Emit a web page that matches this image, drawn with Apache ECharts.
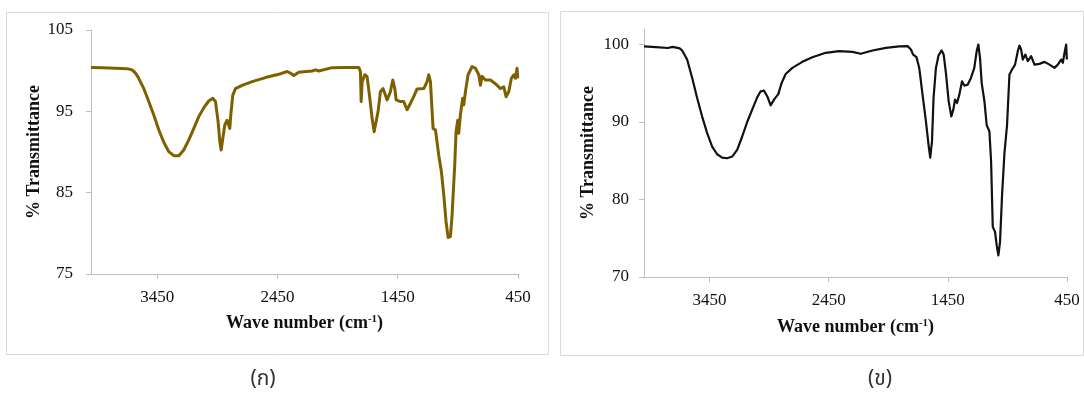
<!DOCTYPE html>
<html>
<head>
<meta charset="utf-8">
<script src="https://cdn.jsdelivr.net/npm/echarts@6/dist/echarts.min.js"></script>
<style>
  html, body { margin: 0; padding: 0; background: #fff; }
  #chart { width: 1084px; height: 396px; }
</style>
</head>
<body>
<div id="chart"></div>
<script>
// FTIR spectrum (ก): wavenumber (cm-1) and % transmittance
const leftWavenumber = [4000, 3900, 3800, 3700, 3658, 3630, 3603, 3561, 3520, 3478, 3436, 3395, 3353, 3312,
  3270, 3229, 3187, 3145, 3104, 3062, 3021, 2988, 2965, 2943, 2929, 2918, 2904, 2888, 2868, 2854, 2846,
  2838, 2821, 2799, 2744, 2660, 2550, 2439, 2370, 2342, 2314, 2273, 2162, 2134, 2106, 1995, 1885, 1774,
  1760, 1754, 1746, 1724, 1705, 1685, 1663, 1646, 1630, 1613, 1594, 1572, 1538, 1511, 1491, 1474, 1463,
  1427, 1400, 1372, 1344, 1317, 1289, 1233, 1206, 1192, 1178, 1156, 1136, 1109, 1087, 1067, 1048, 1031,
  1012, 998, 976, 965, 951, 943, 929, 910, 901, 887, 865, 832, 804, 776, 762, 749, 721, 679, 638, 596,
  568, 549, 527, 505, 485, 471, 458, 452];
const leftTransmittance = [100.4, 100.35, 100.3, 100.25, 100.1, 99.7, 99.06, 97.8, 96.2, 94.55, 92.7, 91.2,
  90.04, 89.55, 89.55, 90.25, 91.5, 92.9, 94.35, 95.45, 96.27, 96.6, 96.2, 93.7, 91.3, 90.25, 91.7, 93.3,
  93.9, 93.7, 92.9, 94.55, 97.0, 97.8, 98.2, 98.65, 99.15, 99.55, 99.9, 99.7, 99.4, 99.8, 99.96, 100.1,
  99.96, 100.37, 100.4, 100.4, 99.9, 96.2, 98.6, 99.5, 99.3, 97.0, 94.14, 92.5, 92.7, 95.0, 97.4, 97.8,
  96.4, 97.4, 98.85, 97.8, 96.4, 96.2, 96.2, 95.2, 96.0, 96.8, 97.75, 97.8, 98.65, 99.5, 98.65, 92.9, 92.7,
  89.6, 87.6, 84.7, 81.4, 79.5, 79.6, 82.25, 88.4, 92.5, 93.9, 92.3, 94.55, 96.6, 95.8, 97.4, 99.5, 100.5,
  100.3, 99.5, 98.2, 99.3, 98.85, 98.85, 98.4, 97.8, 98.0, 96.8, 97.4, 99.06, 99.5, 99.06, 100.3, 99.06];

// FTIR spectrum (ข)
const rightWavenumber = [4000, 3900, 3800, 3760, 3700, 3680, 3638, 3596, 3554, 3512, 3470, 3428, 3386, 3344,
  3302, 3260, 3218, 3176, 3134, 3092, 3050, 3021, 2993, 2965, 2937, 2909, 2873, 2845, 2811, 2755, 2671,
  2587, 2475, 2363, 2251, 2181, 2082, 1970, 1858, 1788, 1760, 1741, 1713, 1690, 1662, 1634, 1612, 1598,
  1583, 1570, 1550, 1528, 1502, 1485, 1466, 1443, 1421, 1404, 1390, 1373, 1354, 1331, 1312, 1284, 1256,
  1228, 1208, 1194, 1180, 1166, 1143, 1124, 1101, 1087, 1073, 1054, 1040, 1026, 1012, 995, 975, 953, 933,
  911, 886, 863, 849, 835, 821, 799, 779, 751, 723, 681, 639, 597, 555, 527, 499, 485, 471, 457, 451];
const rightTransmittance = [99.75, 99.65, 99.55, 99.7, 99.5, 99.23, 98.06, 95.7, 93.1, 90.7, 88.56, 86.83,
  85.84, 85.41, 85.32, 85.54, 86.4, 88.13, 90.0, 91.6, 93.18, 93.96, 94.05, 93.3, 92.15, 92.88, 93.6, 95.04,
  96.2, 96.98, 97.76, 98.36, 98.93, 99.14, 99.05, 98.8, 99.23, 99.57, 99.75, 99.79, 99.36, 98.7, 98.36,
  96.98, 93.5, 90.07, 87.05, 85.4, 87.5, 93.1, 96.98, 98.6, 99.23, 98.7, 96.3, 92.66, 90.72, 91.6, 92.88,
  92.45, 93.5, 95.25, 94.7, 94.8, 95.69, 96.98, 99.14, 100.0, 98.28, 95.04, 92.66, 89.6, 88.78, 84.9, 76.47,
  75.82, 74.1, 72.8, 74.53, 80.57, 85.97, 89.64, 96.12, 96.77, 97.4, 99.14, 99.87, 99.36, 98.06, 98.7,
  97.85, 98.5, 97.4, 97.5, 97.76, 97.4, 96.98, 97.4, 98.06, 97.63, 98.9, 100.0, 98.06];

const xTicks = [450, 1450, 2450, 3450];
const leftYTicks = [75, 85, 95, 105];
const rightYTicks = [70, 80, 90, 100];

const pairs = (xs, ys) => xs.map((x, i) => [x, ys[i]]);

const serif = '"Liberation Serif", "Times New Roman", serif';
const axisGray = '#bfbfbf';
const textColor = '#111111';
const plain = v => String(v);

function xAxisFor(gridIndex, nameGap) {
  return {
    gridIndex, type: 'value', inverse: true, min: 450, max: 4000,
    name: 'Wave number (cm{sup|-1})',
    nameLocation: 'middle', nameGap,
    nameTextStyle: {
      fontFamily: serif, fontWeight: 'bold', fontSize: 18, color: textColor,
      rich: { sup: { fontFamily: serif, fontWeight: 'bold', fontSize: 11, verticalAlign: 'top', color: textColor, padding: [0, 0, 8, 0] } }
    },
    axisLine: { show: true, lineStyle: { color: axisGray, width: 1 } },
    axisTick: { show: true, customValues: xTicks, length: 5, lineStyle: { color: axisGray } },
    axisLabel: { customValues: xTicks, formatter: plain, fontFamily: serif, fontSize: 17, color: textColor, margin: 15 },
    splitLine: { show: false }
  };
}

function yAxisFor(gridIndex, min, max, ticks, margin, nameGap) {
  return {
    gridIndex, type: 'value', min, max,
    name: '% Transmittance',
    nameLocation: 'middle', nameGap, nameRotate: 90,
    nameTextStyle: { fontFamily: serif, fontWeight: 'bold', fontSize: 18, color: textColor },
    axisLine: { show: true, lineStyle: { color: axisGray, width: 1 } },
    axisTick: { show: true, customValues: ticks, length: 5, lineStyle: { color: axisGray } },
    axisLabel: { customValues: ticks, formatter: plain, fontFamily: serif, fontSize: 17, color: textColor, margin },
    splitLine: { show: false }
  };
}

const chart = echarts.init(document.getElementById('chart'), null, { renderer: 'canvas' });
chart.setOption({
  animation: false,
  backgroundColor: '#ffffff',
  grid: [
    { left: 91, top: 30, width: 427, height: 244 },
    { left: 644, top: 29, width: 423, height: 248 }
  ],
  xAxis: [xAxisFor(0, 40), xAxisFor(1, 41)],
  yAxis: [
    yAxisFor(0, 75, 105, leftYTicks, 18, 47),
    yAxisFor(1, 70, 102, rightYTicks, 15, 47)
  ],
  series: [
    {
      type: 'line', xAxisIndex: 0, yAxisIndex: 0, showSymbol: false,
      data: pairs(leftWavenumber, leftTransmittance),
      lineStyle: { color: '#7f6000', width: 3, join: 'round' }
    },
    {
      type: 'line', xAxisIndex: 1, yAxisIndex: 1, showSymbol: false,
      data: pairs(rightWavenumber, rightTransmittance),
      lineStyle: { color: '#111111', width: 2.2, join: 'round' }
    }
  ],
  graphic: [
    { type: 'rect', silent: true, z: -1, shape: { x: 6.5, y: 12.5, width: 542, height: 342 },
      style: { fill: 'none', stroke: '#d9d9d9', lineWidth: 1 } },
    { type: 'rect', silent: true, z: -1, shape: { x: 560.5, y: 11.5, width: 523, height: 344 },
      style: { fill: 'none', stroke: '#d9d9d9', lineWidth: 1 } },
    { type: 'text', x: 263, y: 381,
      style: { text: '(ก)', fontSize: 21, fontFamily: '"Noto Sans Thai", "Noto Sans", sans-serif', fill: '#333', align: 'center', verticalAlign: 'middle' } },
    { type: 'text', x: 880, y: 381,
      style: { text: '(ข)', fontSize: 21, fontFamily: '"Noto Sans Thai", "Noto Sans", sans-serif', fill: '#333', align: 'center', verticalAlign: 'middle' } }
  ]
});
</script>
</body>
</html>
